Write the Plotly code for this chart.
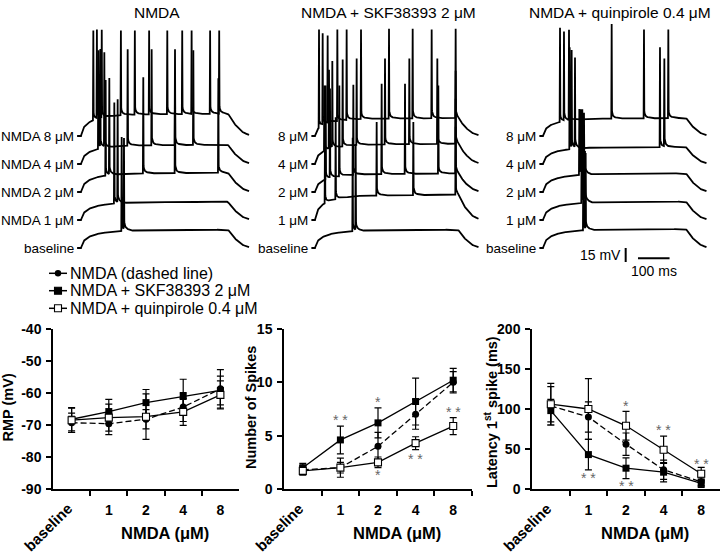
import numpy as np
import plotly.graph_objects as go

W, H = 720, 555

# ---------------- bottom panels: means and error bars ----------------
doses = ["baseline", "1", "2", "4", "8"]

nmda_rmp = [-69.3, -69.6, -68.2, -64.4, -58.7]
nmda_rmp_err = [3.0, 3.4, 3.0, 4.5, 6.0]
skf_rmp = [-68.2, -65.8, -63.0, -61.1, -59.2]
skf_rmp_err = [3.6, 3.8, 4.1, 5.4, 4.5]
quin_rmp = [-68.5, -67.7, -67.4, -65.9, -60.6]
quin_rmp_err = [3.8, 4.2, 7.1, 4.2, 4.4]

nmda_spk = [1.8, 2.0, 4.0, 7.0, 10.0]
nmda_spk_err = [0.4, 0.9, 1.3, 1.4, 1.0]
skf_spk = [2.0, 4.6, 6.2, 8.2, 10.2]
skf_spk_err = [0.4, 1.3, 1.4, 2.2, 1.1]
quin_spk = [1.7, 2.0, 2.5, 4.3, 5.9]
quin_spk_err = [0.4, 0.5, 0.5, 0.6, 0.8]

nmda_lat = [104, 90, 56, 24, 9]
nmda_lat_err = [24, 19, 14, 12, 5]
skf_lat = [98, 43, 26, 21, 7]
skf_lat_err = [14, 19, 13, 12, 5]
quin_lat = [106, 100, 79, 49, 19]
quin_lat_err = [26, 38, 18, 17, 8]

rmp_ticks = [-90, -80, -70, -60, -50, -40]
spk_ticks = [0, 5, 10, 15]
lat_ticks = [0, 50, 100, 150, 200]

# significance marks
spk_star_x = ["1", "2", "2", "4", "8"]
spk_star_y = [6.65, 8.3, 1.47, 3.03, 7.4]
spk_star_txt = ["* *", "*", "*", "* *", "* *"]
lat_star_x = ["1", "2", "2", "4", "8"]
lat_star_y = [16.7, 106, 5.8, 75.8, 34.2]
lat_star_txt = ["* *", "*", "* *", "* *", "* *"]

# ---------------- top panels: example recordings ----------------
panel_titles = ["NMDA", "NMDA + SKF38393 2 μM", "NMDA + quinpirole 0.4 μM"]
names_nmda = ["baseline", "NMDA 1 μM", "NMDA 2 μM", "NMDA 4 μM", "NMDA 8 μM"]
names_drug = ["baseline", "1 μM", "2 μM", "4 μM", "8 μM"]

# depolarisation during the current step (mV), baseline .. 8 uM
nmda_depol = [19.3, 19.3, 20.4, 20.4, 23.6]
skf_depol = [19.3, 26.8, 19.6, 21.4, 19.0]
quin_depol = [20.0, 19.3, 19.6, 18.0, 19.0]

# spike times (ms from step onset) and peak (mV above rest)
nmda_spike_t = [
    [125.4, 132.5],
    [102.7, 113.0],
    [76.0, 87.3, 192.0, 289.8, 423.4],
    [53.4, 59.6, 71.9, 143.9, 217.8, 289.8, 346.3],
    [38, 49, 64, 123, 166, 210, 266, 312, 341, 398, 426],
]
nmda_spike_v = [
    [119, 116],
    [126, 128],
    [120, 121, 123, 122, 122],
    [122, 121, 118, 123, 123, 123, 122],
    [113, 113, 113, 113, 113, 113, 113, 113, 113, 113, 113],
]
skf_spike_t = [
    [119.4, 128.9],
    [31.7, 65.5, 195.4, 311.6, 445.7],
    [33.8, 47.5, 77.1, 121.5, 211.2, 285.2, 390.8, 445.7],
    [29.6, 44.4, 54.9, 87.7, 132.0, 221.8, 298.9, 387.6, 445.7],
    [12.7, 24.3, 40.1, 70.8, 100.3, 145.8, 234.5, 309.5, 369.7, 445.7],
]
skf_spike_v = [
    [118, 110],
    [100, 110, 105, 105, 100],
    [114, 110, 114, 115, 116, 116, 114, 100],
    [84, 100, 109, 112, 113, 113, 113, 113, 100],
    [114, 109, 107, 114, 114, 114, 115, 115, 114, 115],
]
quin_spike_t = [
    [127.8, 135.2],
    [122.5, 127.8, 133.1],
    [115.1, 120.4, 124.6, 129.9],
    [84.5, 90.8, 101.4, 370.7, 384.5],
    [53.9, 66.5, 82.4, 217.6, 320.0, 397.1],
]
quin_spike_v = [
    [110, 100],
    [89, 80, 70],
    [89, 86, 84, 80],
    [125, 120, 112, 125, 112],
    [116, 111, 113, 120, 114, 114],
]

# shape of the step response (fraction of the plateau) traced from the baseline sweep
env_t = [-12, 0, 4, 10, 20, 35, 55, 80, 110, 150, 250, 350, 450, 455, 464, 475, 487, 500, 518]
env_f = [0, 0, 0.22, 0.42, 0.58, 0.7, 0.8, 0.87, 0.93, 0.97, 0.99, 1.0, 1.02, 0.97, 0.74, 0.52, 0.32, 0.16, 0.05]
spk_k_t = [-1.2, 0.0, 1.0, 2.5, 8.0, 25.0, 60.0]
spk_k_v = [0, 1, 8, 4, 1.5, 0, 0]

T0, T1 = -12, 518
GAP = 30  # mV between stacked sweeps


def sweep(depol, sp_t, sp_v):
    extra = [ts + k for ts in sp_t for k in spk_k_t]
    t = np.unique(np.concatenate([np.arange(T0, T1 + 0.01, 1.0), env_t, extra]))
    t = t[(t >= T0) & (t <= T1)]
    v = depol * np.interp(t, env_t, env_f)
    for ts, pk in zip(sp_t, sp_v):
        shape = list(spk_k_v)
        shape[1] = pk - depol * np.interp(ts, env_t, env_f)
        v = v + np.interp(t - ts, spk_k_t, shape, left=0, right=0)
    return t, v


def X(px):
    return px / W


def Y(py):
    return 1 - py / H


fig = go.Figure()

# top axes geometry (pixel anchors)
top_px0 = [81, 315, 543]
top_scale = [0.3244, 0.3156, 0.3156]
V_PX0, V_S = 248, 14 / 15
TOP_PY = (22, 282)
y_range_top = [(V_PX0 - TOP_PY[1]) / V_S, (V_PX0 - TOP_PY[0]) / V_S]
XR = [-12, 530]

panels = [
    (names_nmda, nmda_depol, nmda_spike_t, nmda_spike_v),
    (names_drug, skf_depol, skf_spike_t, skf_spike_v),
    (names_drug, quin_depol, quin_spike_t, quin_spike_v),
]
title_x = [156.5, 388, 619.5]

for p, (names, depol, st, sv) in enumerate(panels):
    ax = p + 4
    xa, ya = "x%d" % ax, "y%d" % ax
    for i in range(5):
        t, v = sweep(depol[i], st[i], sv[i])
        fig.add_trace(go.Scatter(x=t, y=v + GAP * i, mode="lines", xaxis=xa, yaxis=ya,
                                 line=dict(color="black", width=1.8), hoverinfo="skip"))
        fig.add_annotation(x=T0, y=GAP * i, xref=xa, yref=ya, text=names[i], showarrow=False,
                           xanchor="right", yanchor="middle", xshift=-1, font=dict(size=13.5))
    s = top_scale[p]
    fig.layout["xaxis%d" % ax] = dict(domain=[X(top_px0[p] + XR[0] * s), X(top_px0[p] + XR[1] * s)],
                                      range=XR, visible=False, anchor=ya, automargin=False)
    fig.layout["yaxis%d" % ax] = dict(domain=[Y(TOP_PY[1]), Y(TOP_PY[0])], range=y_range_top,
                                      visible=False, anchor=xa, automargin=False)
    fig.add_annotation(x=X(title_x[p]), y=Y(12), xref="paper", yref="paper", text=panel_titles[p],
                       showarrow=False, xanchor="center", yanchor="middle", font=dict(size=15.5))

# scale bars on the right panel
fig.add_shape(type="line", xref="x6", yref="y6", x0=262, x1=262, y0=0, y1=-15,
              line=dict(color="black", width=2))
fig.add_shape(type="line", xref="x6", yref="y6", x0=301, x1=401, y0=-11, y1=-11,
              line=dict(color="black", width=2))
fig.add_annotation(x=262, y=-7.5, xref="x6", yref="y6", text="15 mV", showarrow=False,
                   xanchor="right", yanchor="middle", xshift=-3, font=dict(size=14))
fig.add_annotation(x=351, y=-24.6, xref="x6", yref="y6", text="100 ms", showarrow=False,
                   xanchor="center", yanchor="middle", font=dict(size=14))

# bottom panels
bottom = [
    ("x", "y", (nmda_rmp, nmda_rmp_err), (skf_rmp, skf_rmp_err), (quin_rmp, quin_rmp_err)),
    ("x2", "y2", (nmda_spk, nmda_spk_err), (skf_spk, skf_spk_err), (quin_spk, quin_spk_err)),
    ("x3", "y3", (nmda_lat, nmda_lat_err), (skf_lat, skf_lat_err), (quin_lat, quin_lat_err)),
]
for xa, ya, nm, sk, qu in bottom:
    eb = dict(type="data", color="black", thickness=1.2, width=3.5)
    fig.add_trace(go.Scatter(x=doses, y=nm[0], error_y=dict(array=nm[1], **eb), xaxis=xa, yaxis=ya,
                             mode="lines+markers", line=dict(color="black", width=1.3, dash="6px,3px"),
                             marker=dict(symbol="circle", size=7, color="black")))
    fig.add_trace(go.Scatter(x=doses, y=sk[0], error_y=dict(array=sk[1], **eb), xaxis=xa, yaxis=ya,
                             mode="lines+markers", line=dict(color="black", width=1.3),
                             marker=dict(symbol="square", size=7, color="black")))
    fig.add_trace(go.Scatter(x=doses, y=qu[0], error_y=dict(array=qu[1], **eb), xaxis=xa, yaxis=ya,
                             mode="lines+markers", line=dict(color="black", width=1.3),
                             marker=dict(symbol="square", size=7, color="white",
                                         line=dict(color="black", width=1.1))))

bx = [(53, 239), (284, 472), (532, 720)]
by = (489, 329)
yspecs = [([-90, -40], rmp_ticks, [str(v) for v in rmp_ticks]),
          ([0, 15], spk_ticks, [str(v) for v in spk_ticks]),
          ([0, 200], lat_ticks, [str(v) for v in lat_ticks])]
for k in range(3):
    sfx = "" if k == 0 else str(k + 1)
    fig.layout["xaxis" + sfx] = dict(
        domain=[X(bx[k][0]), X(bx[k][1])], type="category", categoryorder="array",
        categoryarray=doses, range=[-0.5, 4.5], tickmode="array", tickvals=doses[1:], ticktext=doses[1:],
        tickson="boundaries", ticks="outside", ticklen=5, tickwidth=1.5, tickcolor="black",
        showline=True, linecolor="black", linewidth=1.5, showgrid=False, zeroline=False,
        ticklabelstandoff=7, tickfont=dict(size=14, weight="bold"), anchor="y" + sfx, automargin=False)
    fig.layout["yaxis" + sfx] = dict(
        domain=[Y(by[0]), Y(by[1])], range=yspecs[k][0], tickmode="array", tickvals=yspecs[k][1],
        ticktext=yspecs[k][2], ticks="outside", ticklen=5, tickwidth=1.5, tickcolor="black",
        showline=True, linecolor="black", linewidth=1.5, showgrid=False, zeroline=False,
        ticklabelstandoff=2, tickfont=dict(size=14, weight="bold"), anchor="x" + sfx, automargin=False)
    fig.add_annotation(x=0, y=Y(497), xref="x" + sfx, yref="paper", text="<b>baseline</b>",
                       textangle=-45, showarrow=False, xanchor="right", yanchor="top", xshift=6,
                       font=dict(size=15))

# axis titles
xt_x = [165, 397, 645]
for k in range(3):
    fig.add_annotation(x=X(xt_x[k]), y=Y(532.5), xref="paper", yref="paper", text="<b>NMDA (μM)</b>",
                       showarrow=False, xanchor="center", yanchor="middle", font=dict(size=16.5))
ytitles = [(7.5, 408, "<b>RMP (mV)</b>"), (251, 408, "<b>Number of Spikes</b>"),
           (491, 412, "<b>Latency 1<sup>st</sup> spike (ms)</b>")]
for x0, y0, txt in ytitles:
    fig.add_annotation(x=X(x0), y=Y(y0), xref="paper", yref="paper", text=txt, textangle=-90,
                       showarrow=False, xanchor="center", yanchor="middle", font=dict(size=14.5))

# significance asterisks (annotations on a category axis take the category index)
for xs, ys, ts, ax in [(spk_star_x, spk_star_y, spk_star_txt, "2"), (lat_star_x, lat_star_y, lat_star_txt, "3")]:
    for x0, y0, t0 in zip(xs, ys, ts):
        fig.add_annotation(x=doses.index(x0), y=y0, xref="x" + ax, yref="y" + ax, text=t0,
                           showarrow=False, xanchor="center", yanchor="middle", yshift=-2,
                           font=dict(size=14, color="#666666"))

# legend drawn by hand (short keys, solid lines)
leg_rows = [273.3, 290.7, 308.3]
leg_text = ["NMDA (dashed line)", "NMDA + SKF38393 2 μM", "NMDA + quinpirole 0.4 μM"]
for r, (py, txt) in enumerate(zip(leg_rows, leg_text)):
    fig.add_shape(type="line", xref="paper", yref="paper", x0=X(49), x1=X(67), y0=Y(py), y1=Y(py),
                  line=dict(color="black", width=1.5))
    if r == 0:
        fig.add_shape(type="circle", xref="paper", yref="paper", x0=X(54.8), x1=X(61.2),
                      y0=Y(py + 3.2), y1=Y(py - 3.2), fillcolor="black", line=dict(color="black", width=0))
    else:
        fig.add_shape(type="rect", xref="paper", yref="paper", x0=X(54.5), x1=X(61.5),
                      y0=Y(py + 3.5), y1=Y(py - 3.5), fillcolor="black" if r == 1 else "white",
                      line=dict(color="black", width=1.1))
    fig.add_annotation(x=X(68), y=Y(py), xref="paper", yref="paper", text=txt, showarrow=False,
                       xanchor="left", yanchor="middle", font=dict(size=16))

fig.update_layout(width=W, height=H, margin=dict(l=0, r=0, t=0, b=0), showlegend=False,
                  plot_bgcolor="white", paper_bgcolor="white",
                  font=dict(family="Liberation Sans, Arial, sans-serif", color="black"))

# the page body has a default 8px margin; drop it so the figure sits at the window origin
fig.write_html("out.html", config={"displayModeBar": False},
               post_script="document.body.style.margin='0px';")
